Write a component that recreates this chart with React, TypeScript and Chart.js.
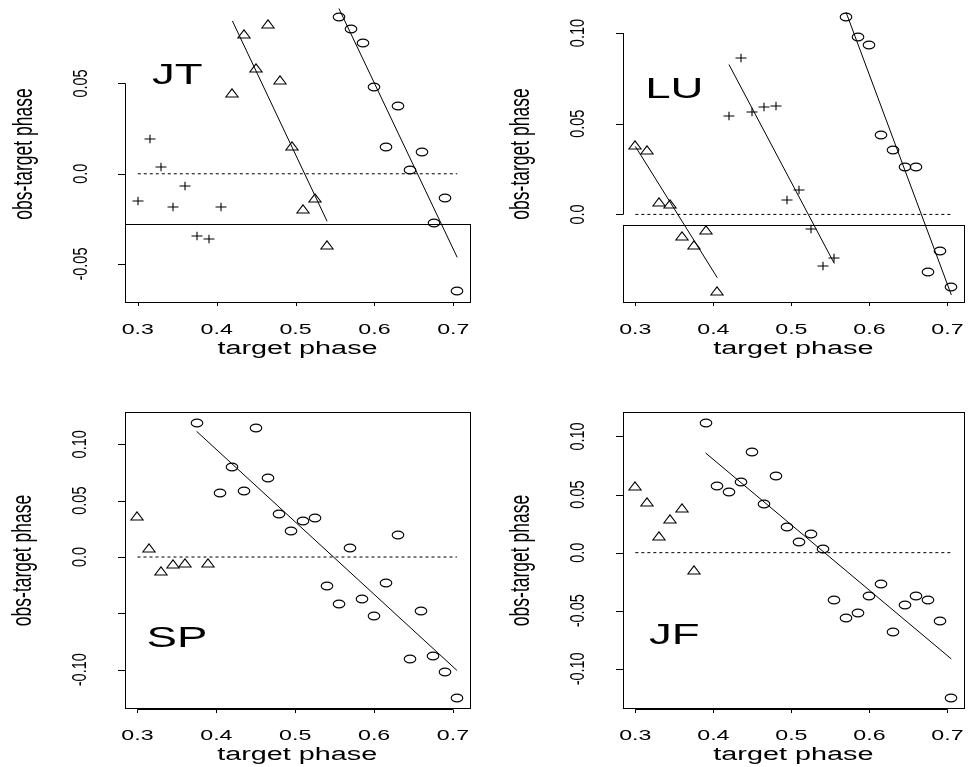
import React, { useEffect, useRef } from "react";
import { Chart, registerables } from "chart.js";

Chart.register(...registerables);

const FONT = '"Liberation Sans", Arial, Helvetica, sans-serif';

// ---------------- data ----------------
const xTicks = [0.3, 0.4, 0.5, 0.6, 0.7];
const xTickLabels = ["0.3", "0.4", "0.5", "0.6", "0.7"];
const zeroPhase = [0.3, 0.705];
const zeroObs = [0, 0];

// JT
const jtCrossPhase = [0.3, 0.315, 0.33, 0.345, 0.36, 0.375, 0.39, 0.405];
const jtCrossObs = [-0.0153, 0.0193, 0.0037, -0.0186, -0.007, -0.0347, -0.0362, -0.0182];
const jtTriPhase = [0.42, 0.435, 0.45, 0.465, 0.48, 0.495, 0.51, 0.525, 0.54];
const jtTriObs = [0.045, 0.0772, 0.0588, 0.0827, 0.052, 0.0153, -0.0197, -0.0136, -0.0397];
const jtCirclePhase = [0.555, 0.57, 0.585, 0.6, 0.615, 0.63, 0.645, 0.66, 0.675, 0.69, 0.705];
const jtCircleObs = [0.0868, 0.0801, 0.0722, 0.048, 0.0147, 0.0375, 0.0022, 0.0119, -0.0272, -0.0132, -0.0647];
const jtFitTriPhase = [0.42, 0.54];
const jtFitTriObs = [0.0846, -0.0263];
const jtFitCirclePhase = [0.555, 0.705];
const jtFitCircleObs = [0.0915, -0.0463];
const jtYTicks = [-0.05, 0, 0.05];
const jtYTickLabels = ["-0.05", "0.0", "0.05"];

// LU
const luTriPhase = [0.3, 0.315, 0.33, 0.345, 0.36, 0.375, 0.39, 0.405];
const luTriObs = [0.0384, 0.0353, 0.0071, 0.0057, -0.0117, -0.0168, -0.0084, -0.0424];
const luCrossPhase = [0.42, 0.435, 0.45, 0.465, 0.48, 0.495, 0.51, 0.525, 0.54, 0.555];
const luCrossObs = [0.0541, 0.0861, 0.0563, 0.0592, 0.0596, 0.008, 0.0137, -0.008, -0.0282, -0.024];
const luCirclePhase = [0.57, 0.585, 0.6, 0.615, 0.63, 0.645, 0.66, 0.675, 0.69, 0.705];
const luCircleObs = [0.1088, 0.098, 0.0934, 0.0439, 0.0353, 0.026, 0.026, -0.032, -0.0201, -0.0399];
const luFitTriPhase = [0.3, 0.405];
const luFitTriObs = [0.0375, -0.0349];
const luFitCrossPhase = [0.42, 0.555];
const luFitCrossObs = [0.0826, -0.0271];
const luFitCirclePhase = [0.57, 0.705];
const luFitCircleObs = [0.1115, -0.0444];
const luYTicks = [0, 0.05, 0.1];
const luYTickLabels = ["0.0", "0.05", "0.10"];

// SP
const spTriPhase = [0.3, 0.315, 0.33, 0.345, 0.36, 0.39];
const spTriObs = [0.0367, 0.0083, -0.0127, -0.0062, -0.0056, -0.0056];
const spCirclePhase = [0.375, 0.405, 0.42, 0.435, 0.45, 0.465, 0.48, 0.495, 0.51, 0.525, 0.54, 0.555, 0.57, 0.585, 0.6, 0.615, 0.63, 0.645, 0.66, 0.675, 0.69, 0.705];
const spCircleObs = [0.1186, 0.0568, 0.0796, 0.0583, 0.1145, 0.0701, 0.0385, 0.0234, 0.0322, 0.0343, -0.0257, -0.0414, 0.008, -0.0376, -0.0521, -0.0234, 0.0195, -0.0908, -0.0479, -0.0876, -0.1018, -0.1251];
const spFitPhase = [0.375, 0.705];
const spFitObs = [0.1115, -0.1006];
const spYTicks = [-0.1, -0.05, 0, 0.05, 0.1];
const spYTickLabels = ["-0.10", "", "0.0", "0.05", "0.10"];

// JF
const jfTriPhase = [0.3, 0.315, 0.33, 0.345, 0.36, 0.375];
const jfTriObs = [0.0571, 0.0433, 0.0143, 0.0287, 0.0382, -0.0152];
const jfCirclePhase = [0.39, 0.405, 0.42, 0.435, 0.45, 0.465, 0.48, 0.495, 0.51, 0.525, 0.54, 0.555, 0.57, 0.585, 0.6, 0.615, 0.63, 0.645, 0.66, 0.675, 0.69, 0.705];
const jfCircleObs = [0.1113, 0.0571, 0.0525, 0.0608, 0.0864, 0.0422, 0.0657, 0.0221, 0.0089, 0.0158, 0.0034, -0.0405, -0.056, -0.0519, -0.0376, -0.027, -0.068, -0.045, -0.0376, -0.0407, -0.0588, -0.1251];
const jfFitPhase = [0.39, 0.705];
const jfFitObs = [0.0858, -0.0915];
const jfYTicks = [-0.1, -0.05, 0, 0.05, 0.1];
const jfYTickLabels = ["-0.10", "-0.05", "0.0", "0.05", "0.10"];

const panelNames = ["JT", "LU", "SP", "JF"];
const panelNameObs = [0.0556, 0.0703, -0.0701, -0.0696];
const panelNamePhase = [0.35, 0.35, 0.35, 0.35];

// ---------------- layout (positions / styles) ----------------
type Layout = {
  ox: number; oy: number; w: number; h: number;
  left: number; right: number; top: number; bottom: number;
  xMin: number; xMax: number; yMin: number; yMax: number;
  boxTop: number | null;
};

const layouts: Layout[] = [
  { ox: 0, oy: 0, w: 485, h: 383, left: 125, right: 470, top: 4.8, bottom: 302, xMin: 0.2838, xMax: 0.7212, yMin: -0.071, yMax: 0.0929, boxTop: -0.028 },
  { ox: 485, oy: 0, w: 485, h: 383, left: 137.7, right: 482.7, top: 4.5, bottom: 302, xMin: 0.2838, xMax: 0.7212, yMin: -0.0483, yMax: 0.1149, boxTop: -0.0057 },
  { ox: 0, oy: 383, w: 485, h: 384, left: 124.7, right: 469.7, top: 29.3, bottom: 325.7, xMin: 0.2838, xMax: 0.7212, yMin: -0.1346, yMax: 0.1284, boxTop: null },
  { ox: 485, oy: 383, w: 485, h: 384, left: 137.7, right: 482.7, top: 29.3, bottom: 325.7, xMin: 0.2838, xMax: 0.7212, yMin: -0.1343, yMax: 0.1208, boxTop: null },
];

type Kind = "cross" | "triangle" | "circle";
type Series = { kind: Kind; phase: number[]; obs: number[] };
type Fit = { phase: number[]; obs: number[] };

const panelSeries: Series[][] = [
  [
    { kind: "cross", phase: jtCrossPhase, obs: jtCrossObs },
    { kind: "triangle", phase: jtTriPhase, obs: jtTriObs },
    { kind: "circle", phase: jtCirclePhase, obs: jtCircleObs },
  ],
  [
    { kind: "triangle", phase: luTriPhase, obs: luTriObs },
    { kind: "cross", phase: luCrossPhase, obs: luCrossObs },
    { kind: "circle", phase: luCirclePhase, obs: luCircleObs },
  ],
  [
    { kind: "triangle", phase: spTriPhase, obs: spTriObs },
    { kind: "circle", phase: spCirclePhase, obs: spCircleObs },
  ],
  [
    { kind: "triangle", phase: jfTriPhase, obs: jfTriObs },
    { kind: "circle", phase: jfCirclePhase, obs: jfCircleObs },
  ],
];

const panelFits: Fit[][] = [
  [{ phase: jtFitTriPhase, obs: jtFitTriObs }, { phase: jtFitCirclePhase, obs: jtFitCircleObs }],
  [{ phase: luFitTriPhase, obs: luFitTriObs }, { phase: luFitCrossPhase, obs: luFitCrossObs }, { phase: luFitCirclePhase, obs: luFitCircleObs }],
  [{ phase: spFitPhase, obs: spFitObs }],
  [{ phase: jfFitPhase, obs: jfFitObs }],
];

const panelYTicks = [jtYTicks, luYTicks, spYTicks, jfYTicks];
const panelYTickLabels = [jtYTickLabels, luYTickLabels, spYTickLabels, jfYTickLabels];

// ---------------- marker images ----------------
function makeMarker(kind: Kind): HTMLCanvasElement {
  const c = document.createElement("canvas");
  const ctx = c.getContext("2d")!;
  ctx.strokeStyle = "#000";
  ctx.lineWidth = 1.1;
  if (kind === "circle") {
    c.width = 14; c.height = 10;
    ctx.strokeStyle = "#000";
    ctx.lineWidth = 1.1;
    ctx.beginPath();
    ctx.ellipse(7, 5, 5.8, 3.9, 0, 0, Math.PI * 2);
    ctx.stroke();
  } else if (kind === "triangle") {
    c.width = 14; c.height = 10;
    ctx.strokeStyle = "#000";
    ctx.lineWidth = 1.1;
    ctx.beginPath();
    ctx.moveTo(7, 0.8);
    ctx.lineTo(13.2, 9);
    ctx.lineTo(0.8, 9);
    ctx.closePath();
    ctx.stroke();
  } else {
    c.width = 12; c.height = 10;
    ctx.strokeStyle = "#000";
    ctx.lineWidth = 1.1;
    ctx.beginPath();
    ctx.moveTo(0.5, 5);
    ctx.lineTo(11.5, 5);
    ctx.moveTo(6, 0.8);
    ctx.lineTo(6, 9.2);
    ctx.stroke();
  }
  return c;
}

function drawText(
  ctx: CanvasRenderingContext2D, text: string, x: number, y: number, size: number,
  sx: number, align: CanvasTextAlign, baseline: CanvasTextBaseline, rotate = false
) {
  ctx.save();
  ctx.translate(x, y);
  ctx.scale(sx, 1);
  if (rotate) ctx.rotate(-Math.PI / 2);
  ctx.font = `${size}px ${FONT}`;
  ctx.textAlign = align;
  ctx.textBaseline = baseline;
  ctx.fillStyle = "#000";
  ctx.fillText(text, 0, 0);
  ctx.restore();
}

function Panel({ index }: { index: number }) {
  const ref = useRef<HTMLCanvasElement>(null);
  const L = layouts[index];

  useEffect(() => {
    const canvas = ref.current!;
    const markers: Record<Kind, HTMLCanvasElement> = {
      cross: makeMarker("cross"),
      triangle: makeMarker("triangle"),
      circle: makeMarker("circle"),
    };
    const datasets: any[] = [];
    datasets.push({
      type: "line",
      data: zeroPhase.map((p, i) => ({ x: p, y: zeroObs[i] })),
      showLine: true,
      borderColor: "#000",
      borderWidth: 1,
      borderDash: [3, 3],
      pointRadius: 0,
      fill: false,
    });
    panelFits[index].forEach((f) => {
      datasets.push({
        type: "line",
        data: f.phase.map((p, i) => ({ x: p, y: f.obs[i] })),
        showLine: true,
        borderColor: "#000",
        borderWidth: 1,
        pointRadius: 0,
        fill: false,
      });
    });
    panelSeries[index].forEach((s) => {
      datasets.push({
        type: "scatter",
        data: s.phase.map((p, i) => ({ x: p, y: s.obs[i] })),
        pointStyle: markers[s.kind],
        pointRadius: 5,
        showLine: false,
      });
    });

    const crispPlugin = {
      id: "crispMarkers",
      beforeDatasetsDraw(chart: any) {
        chart.ctx.save();
        chart.ctx.imageSmoothingEnabled = false;
      },
      afterDatasetsDraw(chart: any) {
        chart.ctx.restore();
      },
    };

    const axesPlugin = {
      id: "rAxes",
      afterDraw(chart: any) {
        const ctx: CanvasRenderingContext2D = chart.ctx;
        const xs = chart.scales.x;
        const ys = chart.scales.y;
        const a = chart.chartArea;
        ctx.save();
        ctx.strokeStyle = "#000";
        ctx.lineWidth = 1;
        // box
        const bTop = L.boxTop === null ? a.top : ys.getPixelForValue(L.boxTop);
        ctx.strokeRect(Math.round(a.left) + 0.5, Math.round(bTop) + 0.5, Math.round(a.right - a.left), Math.round(a.bottom - bTop));
        // y axis
        const yt = panelYTicks[index];
        const yl = panelYTickLabels[index];
        const ax = Math.round(a.left) + 0.5;
        ctx.beginPath();
        ctx.moveTo(ax, ys.getPixelForValue(Math.min(...yt)));
        ctx.lineTo(ax, ys.getPixelForValue(Math.max(...yt)));
        yt.forEach((v) => {
          const py = Math.round(ys.getPixelForValue(v)) + 0.5;
          ctx.moveTo(ax - 7.5, py);
          ctx.lineTo(ax, py);
        });
        // x axis
        const by = Math.round(a.bottom) + 0.5;
        ctx.moveTo(xs.getPixelForValue(xTicks[0]), by);
        ctx.lineTo(xs.getPixelForValue(xTicks[xTicks.length - 1]), by);
        xTicks.forEach((v) => {
          const px = Math.round(xs.getPixelForValue(v)) + 0.5;
          ctx.moveTo(px, by);
          ctx.lineTo(px, by + 3.5);
        });
        ctx.stroke();
        // labels
        yt.forEach((v, i) => {
          if (yl[i]) drawText(ctx, yl[i], a.left - 44, ys.getPixelForValue(v), 14.5, 1.4, "center", "middle", true);
        });
        xTicks.forEach((v, i) => {
          drawText(ctx, xTickLabels[i], xs.getPixelForValue(v), a.bottom + 31.5, 14.5, 1.6, "center", "alphabetic");
        });
        drawText(ctx, "target phase", (a.left + a.right) / 2, a.bottom + 51.5, 18, 1.6, "center", "alphabetic");
        drawText(ctx, "obs-target phase", a.left - 101, (a.top + a.bottom) / 2, 17.5, 1.6, "center", "middle", true);
        drawText(
          ctx, panelNames[index],
          xs.getPixelForValue(panelNamePhase[index]),
          ys.getPixelForValue(panelNameObs[index]) + 10.7,
          30, 1.52, "center", "alphabetic"
        );
        ctx.restore();
      },
    };

    const chart = new Chart(canvas, {
      type: "scatter",
      data: { datasets },
      options: {
        animation: false,
        responsive: false,
        maintainAspectRatio: false,
        devicePixelRatio: 1,
        layout: {
          padding: { left: L.left, right: L.w - L.right, top: L.top, bottom: L.h - L.bottom },
        },
        scales: {
          x: { type: "linear", min: L.xMin, max: L.xMax, display: false, bounds: "data" },
          y: { type: "linear", min: L.yMin, max: L.yMax, display: false, bounds: "data" },
        },
        plugins: { legend: { display: false }, tooltip: { enabled: false }, title: { display: false } },
        events: [],
      } as any,
      plugins: [crispPlugin, axesPlugin],
    });
    return () => chart.destroy();
  }, [index]);

  return (
    <canvas
      ref={ref}
      width={L.w}
      height={L.h}
      style={{ position: "absolute", left: L.ox, top: L.oy, width: L.w, height: L.h }}
    />
  );
}

export default function App() {
  return (
    <div style={{ position: "absolute", left: 0, top: 0, width: 970, height: 767, background: "#fff" }}>
      {[0, 1, 2, 3].map((i) => (
        <Panel key={i} index={i} />
      ))}
    </div>
  );
}
